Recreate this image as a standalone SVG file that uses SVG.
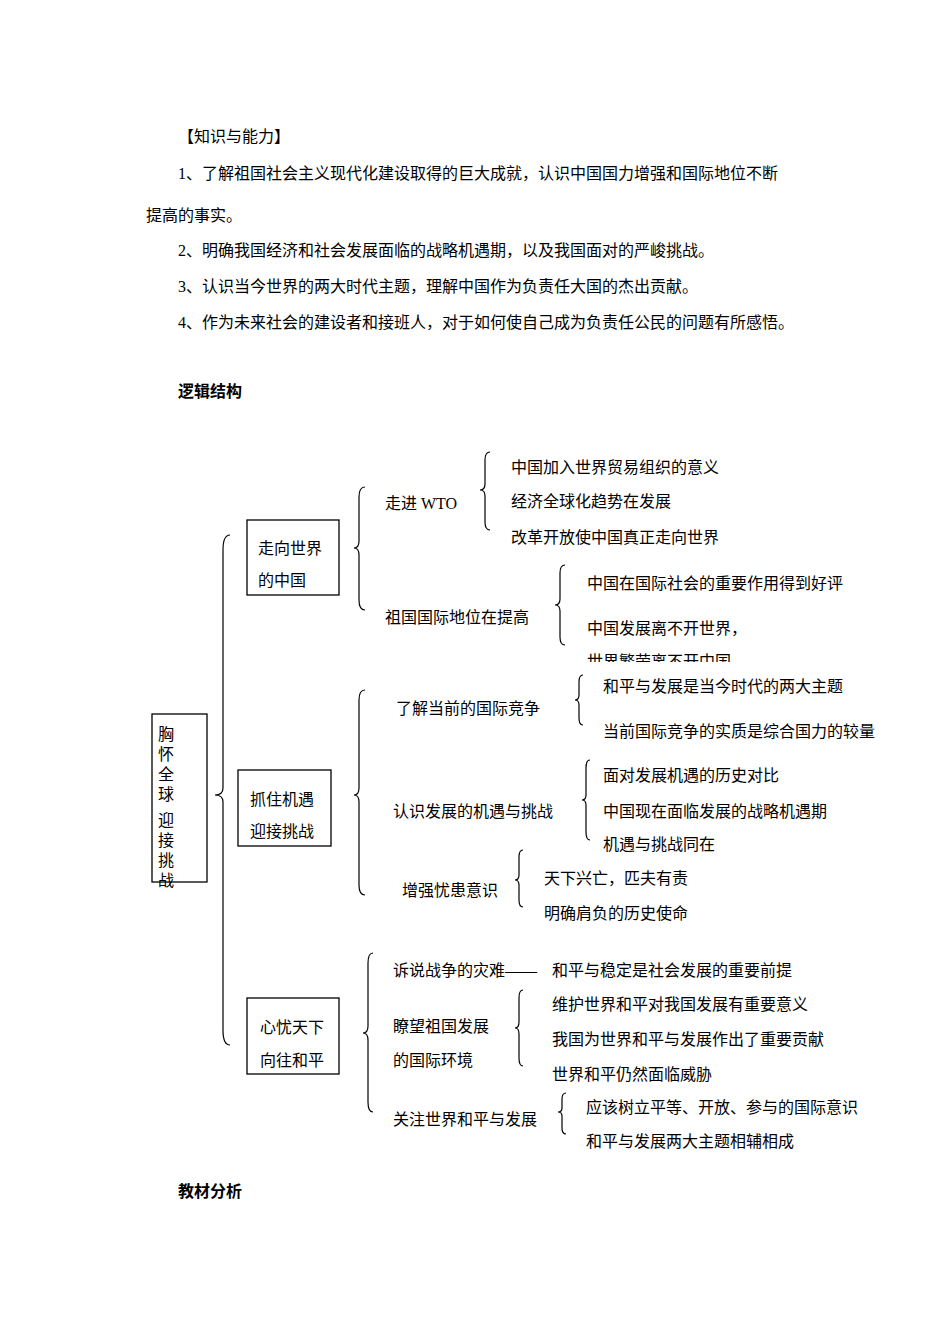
<svg xmlns="http://www.w3.org/2000/svg" width="950" height="1344" viewBox="0 0 950 1344">
<style>
text{font-family:"Liberation Serif","Noto Sans CJK SC",serif;font-size:16px;fill:#000}
.b{font-weight:bold}
.n{fill:#fff;stroke:#000;stroke-width:1.3}
.c{fill:none;stroke:#000;stroke-width:1.2}
</style>
<defs><clipPath id="cl"><rect x="580" y="640" width="200" height="22"/></clipPath></defs>
<rect width="950" height="1344" fill="#fff"/>
<text x="178" y="142">【知识与能力】</text>
<text x="178" y="179">1、了解祖国社会主义现代化建设取得的巨大成就，认识中国国力增强和国际地位不断</text>
<text x="146" y="221">提高的事实。</text>
<text x="178" y="256">2、明确我国经济和社会发展面临的战略机遇期，以及我国面对的严峻挑战。</text>
<text x="178" y="292">3、认识当今世界的两大时代主题，理解中国作为负责任大国的杰出贡献。</text>
<text x="178" y="328">4、作为未来社会的建设者和接班人，对于如何使自己成为负责任公民的问题有所感悟。</text>
<text x="178" y="397" class="b">逻辑结构</text>
<text x="178" y="1197" class="b">教材分析</text>
<g id="connectors" class="c">
<path d="M230 535 Q223 535 223 550 L223 788 Q223 795 215 795 Q223 795 223 802 L223 1030 Q223 1045 230 1045"/>
<path d="M365 487 Q359 487 359 497 L359 541 Q359 548 354 548 Q359 548 359 555 L359 600 Q359 610 365 610"/>
<path d="M490 452 Q485 452 485 460 L485 484 Q485 490 480 490 Q485 490 485 496 L485 522 Q485 530 490 530"/>
<path d="M565 565 Q560 565 560 573 L560 599 Q560 605 555 605 Q560 605 560 611 L560 637 Q560 645 565 645"/>
<path d="M365 690 Q359 690 359 700 L359 788 Q359 795 354 795 Q359 795 359 802 L359 885 Q359 895 365 895"/>
<path d="M583 675 Q579 675 579 682 L579 695 Q579 700 575 700 Q579 700 579 705 L579 718 Q579 725 583 725"/>
<path d="M590 760 Q586 760 586 768 L586 795 Q586 800 582 800 Q586 800 586 805 L586 832 Q586 840 590 840"/>
<path d="M523 850 Q519 850 519 857 L519 875 Q519 880 515 880 Q519 880 519 885 L519 900 Q519 907 523 907"/>
<path d="M373 953 Q368 953 368 963 L368 1026 Q368 1033 363 1033 Q368 1033 368 1040 L368 1102 Q368 1112 373 1112"/>
<path d="M523 990 Q519 990 519 998 L519 1022 Q519 1028 515 1028 Q519 1028 519 1034 L519 1058 Q519 1066 523 1066"/>
<path d="M566 1093 Q562 1093 562 1099 L562 1108 Q562 1112 558 1112 Q562 1112 562 1116 L562 1128 Q562 1134 566 1134"/>
</g>
<g id="n-root"><rect class="n" x="152" y="714" width="55" height="168"/>
<text x="158" y="740">胸</text><text x="158" y="760">怀</text><text x="158" y="780">全</text><text x="158" y="800">球</text>
<text x="158" y="826">迎</text><text x="158" y="846">接</text><text x="158" y="866">挑</text><text x="158" y="886" dy="-18"> </text><text x="158" y="865" dy="21">战</text></g>
<g id="n-a"><rect class="n" x="247" y="520" width="92" height="75"/><text x="258" y="554">走向世界</text><text x="258" y="586">的中国</text></g>
<g id="n-b"><rect class="n" x="238" y="770" width="93" height="76"/><text x="250" y="805">抓住机遇</text><text x="250" y="837">迎接挑战</text></g>
<g id="n-c"><rect class="n" x="247" y="998" width="92" height="76"/><text x="260" y="1033">心忧天下</text><text x="260" y="1066">向往和平</text></g>
<g id="n-a1"><text x="385" y="509">走进 WTO</text></g>
<g id="n-a1x"><text x="511" y="473" font-size="15">中国加入世界贸易组织的意义</text><text x="511" y="507" font-size="15">经济全球化趋势在发展</text><text x="511" y="543">改革开放使中国真正走向世界</text></g>
<g id="n-a2"><text x="385" y="623">祖国国际地位在提高</text></g>
<g id="n-a2x"><text x="587" y="589">中国在国际社会的重要作用得到好评</text><text x="587" y="634">中国发展离不开世界，</text><text x="587" y="667" clip-path="url(#cl)">世界繁荣离不开中国</text></g>
<g id="n-b1"><text x="396" y="714">了解当前的国际竞争</text></g>
<g id="n-b1x"><text x="603" y="692">和平与发展是当今时代的两大主题</text><text x="603" y="737">当前国际竞争的实质是综合国力的较量</text></g>
<g id="n-b2"><text x="393" y="817">认识发展的机遇与挑战</text></g>
<g id="n-b2x"><text x="603" y="781" font-size="15">面对发展机遇的历史对比</text><text x="603" y="817">中国现在面临发展的战略机遇期</text><text x="603" y="850" font-size="15">机遇与挑战同在</text></g>
<g id="n-b3"><text x="402" y="896">增强忧患意识</text></g>
<g id="n-b3x"><text x="544" y="884" font-size="15">天下兴亡，匹夫有责</text><text x="544" y="919">明确肩负的历史使命</text></g>
<g id="n-c1"><text x="393" y="976">诉说战争的灾难——</text><text x="552" y="976" font-size="15">和平与稳定是社会发展的重要前提</text></g>
<g id="n-c2"><text x="393" y="1032">瞭望祖国发展</text><text x="393" y="1066">的国际环境</text></g>
<g id="n-c2x"><text x="552" y="1010" font-size="15">维护世界和平对我国发展有重要意义</text><text x="552" y="1045">我国为世界和平与发展作出了重要贡献</text><text x="552" y="1080">世界和平仍然面临威胁</text></g>
<g id="n-c3"><text x="393" y="1125">关注世界和平与发展</text></g>
<g id="n-c3x"><text x="586" y="1113" font-size="15">应该树立平等、开放、参与的国际意识</text><text x="586" y="1147">和平与发展两大主题相辅相成</text></g>
</svg>
